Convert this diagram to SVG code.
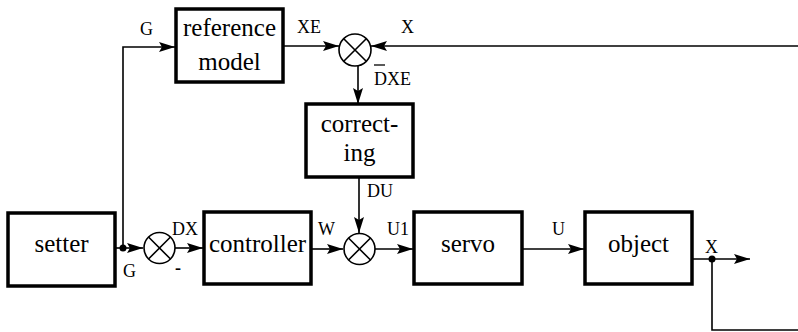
<svg xmlns="http://www.w3.org/2000/svg" width="798" height="332" viewBox="0 0 798 332" font-family="'Liberation Serif', 'Times New Roman', serif">
<style>
.box{fill:#fff;stroke:#000;stroke-width:3.5}
.bt{font-size:25px;text-anchor:middle;fill:#000}
.lb{font-size:18px;fill:#000}
.ln{fill:none;stroke:#000;stroke-width:1.6}
.sum{fill:#fff;stroke:#000;stroke-width:1.6}
</style>
<defs>
<marker id="ah" markerUnits="userSpaceOnUse" markerWidth="17" markerHeight="11" refX="16" refY="5" orient="auto">
<path d="M0,0 L16,5 L0,10 L3,5 z" fill="#000"/>
</marker>
</defs>
<rect width="798" height="332" fill="#fff"/>
<g id="connectors">
<path class="ln" d="M123,248 V47 H175" marker-end="url(#ah)"/>
<path class="ln" d="M115,248 H143" marker-end="url(#ah)"/>
<path class="ln" d="M175,248 H203" marker-end="url(#ah)"/>
<path class="ln" d="M311,249 H343" marker-end="url(#ah)"/>
<path class="ln" d="M359,177 V233" marker-end="url(#ah)"/>
<path class="ln" d="M375,249 H413" marker-end="url(#ah)"/>
<path class="ln" d="M522,249 H584" marker-end="url(#ah)"/>
<path class="ln" d="M692,259 H750" marker-end="url(#ah)"/>
<path class="ln" d="M712,259 V330 H798"/>
<path class="ln" d="M798,46 H371" marker-end="url(#ah)"/>
<path class="ln" d="M283,46 H339" marker-end="url(#ah)"/>
<path class="ln" d="M358,66 V104" marker-end="url(#ah)"/>
<circle cx="123" cy="248" r="3.5" fill="#000"/>
<circle cx="712" cy="259" r="3.5" fill="#000"/>
</g>
<g id="setter">
<rect class="box" x="8" y="213" width="107" height="73"/>
<text class="bt" x="61.5" y="252">setter</text>
</g>
<g id="reference-model">
<rect class="box" x="176" y="9" width="107" height="73"/>
<text class="bt" x="229.5" y="36">reference</text>
<text class="bt" x="229.5" y="70">model</text>
</g>
<g id="sum-top">
<circle class="sum" cx="355" cy="50" r="16"/>
<path class="ln" d="M344,39 L366,61 M366,39 L344,61"/>
</g>
<g id="correcting">
<rect class="box" x="306" y="104" width="107" height="73"/>
<text class="bt" x="359.5" y="132">correct-</text>
<text class="bt" x="359.5" y="161">ing</text>
</g>
<g id="sum-left">
<circle class="sum" cx="159.5" cy="248" r="15.5"/>
<path class="ln" d="M148.5,237 L170.5,259 M170.5,237 L148.5,259"/>
</g>
<g id="controller">
<rect class="box" x="204" y="212" width="107" height="72"/>
<text class="bt" x="257.5" y="252">controller</text>
</g>
<g id="sum-mid">
<circle class="sum" cx="359.5" cy="249" r="15.5"/>
<path class="ln" d="M348.5,238 L370.5,260 M370.5,238 L348.5,260"/>
</g>
<g id="servo">
<rect class="box" x="414" y="212" width="108" height="72"/>
<text class="bt" x="468" y="252">servo</text>
</g>
<g id="object">
<rect class="box" x="585" y="212" width="107" height="72"/>
<text class="bt" x="638.5" y="252">object</text>
</g>
<g id="labels">
<text class="lb" x="140" y="35">G</text>
<text class="lb" x="297" y="33">XE</text>
<text class="lb" x="401" y="33">X</text>
<text class="lb" x="374" y="85">DXE</text>
<line x1="374" y1="65" x2="385" y2="65" stroke="#000" stroke-width="1.3"/>
<text class="lb" x="367" y="197">DU</text>
<text class="lb" x="172" y="235">DX</text>
<text class="lb" x="123" y="277">G</text>
<text class="lb" x="178" y="274" text-anchor="middle" font-weight="bold">-</text>
<text class="lb" x="318" y="235">W</text>
<text class="lb" x="387" y="235">U1</text>
<text class="lb" x="552" y="235">U</text>
<text class="lb" x="705" y="253">X</text>
</g>
</svg>
